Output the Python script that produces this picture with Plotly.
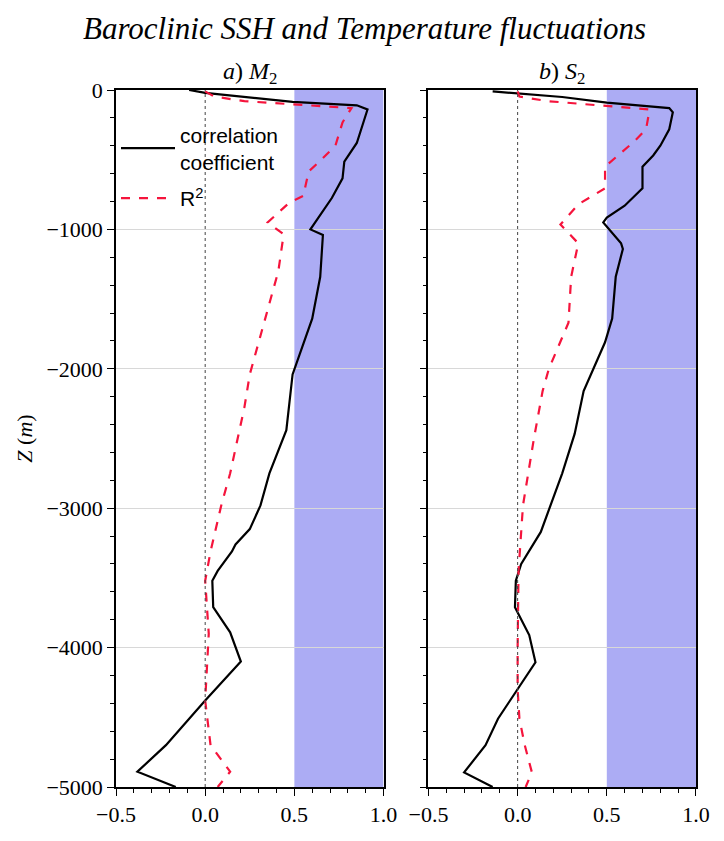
import plotly.graph_objects as go

# ---- data (depth in m, positive down) ----
m2_corr_depth = [0, 20, 85, 110, 140, 280, 380, 514, 634, 775, 866, 1000, 1040, 1340, 1640, 2040,
                 2440, 2750, 2980, 3150, 3260, 3310, 3450, 3520, 3710, 3890, 4100, 4380, 4700, 4890, 5000]
m2_corr = [-0.09, 0.0, 0.49, 0.85, 0.91, 0.875, 0.85, 0.78, 0.77, 0.71, 0.66, 0.59, 0.66, 0.645, 0.60, 0.49,
           0.455, 0.36, 0.31, 0.25, 0.17, 0.15, 0.07, 0.04, 0.045, 0.14, 0.20, 0.0, -0.22, -0.38, -0.165]

m2_r2_depth = [10, 47, 80, 130, 232, 400, 514, 585, 760, 810, 950, 1035, 1300, 2040, 2275, 2750, 2980,
               3310, 3520, 3900, 4380, 4700, 4890, 5000]
m2_r2 = [0.0, 0.05, 0.22, 0.82, 0.77, 0.73, 0.64, 0.58, 0.55, 0.47, 0.35, 0.44, 0.41, 0.25, 0.22, 0.14, 0.09,
         0.03, 0.0, 0.02, 0.0, 0.03, 0.14, 0.07]

s2_corr_depth = [10, 50, 90, 130, 160, 282, 400, 470, 550, 705, 830, 915, 950, 1100, 1140, 1340, 1640, 1810,
                 2160, 2275, 2465, 2750, 3170, 3400, 3520, 3710, 3910, 4105, 4300, 4510, 4700, 4895, 5000]
s2_corr = [-0.14, 0.25, 0.5, 0.85, 0.87, 0.85, 0.80, 0.76, 0.70, 0.70, 0.60, 0.50, 0.48, 0.58, 0.59, 0.55, 0.53,
           0.49, 0.37, 0.35, 0.32, 0.25, 0.13, 0.02, -0.01, -0.015, 0.065, 0.10, 0.0, -0.11, -0.18, -0.30, -0.14]

s2_r2_depth = [10, 47, 80, 140, 282, 373, 550, 705, 820, 965, 1100, 1340, 1670, 2000, 2160, 2510, 2980,
               3450, 4000, 4300, 4510, 4700, 4895, 5000]
s2_r2 = [0.0, 0.01, 0.17, 0.74, 0.72, 0.65, 0.49, 0.49, 0.34, 0.24, 0.34, 0.30, 0.285, 0.175, 0.14, 0.09, 0.03,
         0.005, 0.0, 0.0, 0.01, 0.04, 0.08, 0.045]

x_ticks = [-0.5, 0.0, 0.5, 1.0]
x_tick_labels = ["\u22120.5", "0.0", "0.5", "1.0"]
z_ticks = [0, -1000, -2000, -3000, -4000, -5000]
z_tick_labels = ["0", "\u22121000", "\u22122000", "\u22123000", "\u22124000", "\u22125000"]
shade_range = [0.5, 1.0]

title_text = "<i>Baroclinic SSH and Temperature fluctuations</i>"
panel_titles = ["<i>a</i>) <i>M</i><sub>2</sub>", "<i>b</i>) <i>S</i><sub>2</sub>"]
legend_names = ["correlation<br>coefficient", "R<sup>2</sup>"]

SERIF = "Liberation Serif"
BLACK = "#000000"
RED = "#f5143c"
SHADE = "#acacf4"

fig = go.Figure()

panels = [
    ("x", "y", m2_corr_depth, m2_corr, m2_r2_depth, m2_r2, True),
    ("x2", "y2", s2_corr_depth, s2_corr, s2_r2_depth, s2_r2, False),
]
for xa, ya, cd, cv, rd, rv, show in panels:
    fig.add_trace(go.Scatter(x=cv, y=[-d for d in cd], mode="lines", xaxis=xa, yaxis=ya,
                             line=dict(color=BLACK, width=2.2), name=legend_names[0], showlegend=show,
                             legendgroup="corr"))
    fig.add_trace(go.Scatter(x=rv, y=[-d for d in rd], mode="lines", xaxis=xa, yaxis=ya,
                             line=dict(color=RED, width=2.2, dash="dash"), name=legend_names[1], showlegend=show,
                             legendgroup="r2"))
    # shaded region
    fig.add_shape(type="rect", xref=xa, yref=ya + " domain", x0=shade_range[0], x1=shade_range[1],
                  y0=0, y1=1, fillcolor=SHADE, line=dict(width=0), layer="below")
    # zero line
    fig.add_shape(type="line", xref=xa, yref=ya + " domain", x0=0, x1=0, y0=0, y1=1,
                  line=dict(color="#444444", width=1, dash="dot"), layer="above")

axis_common = dict(showline=True, linecolor="black", linewidth=1.5, mirror=True,
                   ticks="outside", ticklen=7, tickcolor="black", tickwidth=1,
                   tickfont=dict(family=SERIF, size=22, color="black"), zeroline=False)

xdoms = [[0.0, 0.4613], [0.5387, 1.0]]
for i, (xk, yk) in enumerate([("xaxis", "yaxis"), ("xaxis2", "yaxis2")]):
    fig.layout[xk] = dict(domain=xdoms[i], range=[-0.5, 1.0], tickvals=x_ticks, ticktext=x_tick_labels,
                          showgrid=False, anchor="y" if i == 0 else "y2",
                          minor=dict(dtick=0.1, ticks="outside", ticklen=4, tickcolor="black", showgrid=False),
                          **axis_common)
    fig.layout[yk] = dict(domain=[0, 1], range=[-5000, 0], tickvals=z_ticks,
                          ticktext=z_tick_labels, showticklabels=(i == 0),
                          showgrid=True, gridcolor="#d8d8d8", gridwidth=1,
                          anchor="x" if i == 0 else "x2",
                          minor=dict(dtick=200, ticks="outside", ticklen=4, tickcolor="black", showgrid=False),
                          **axis_common)

fig.layout.yaxis.title = dict(text="<i>Z</i> (<i>m</i>)", font=dict(family=SERIF, size=22, color="black"),
                              standoff=8)

fig.add_annotation(text=title_text, xref="paper", yref="paper", x=0.4276, y=1.0, yshift=62,
                   yanchor="middle", showarrow=False, font=dict(family=SERIF, size=31, color="black"),
                   xanchor="center")
for i, t in enumerate(panel_titles):
    fig.add_annotation(text=t, xref="paper", yref="paper", x=(xdoms[i][0] + xdoms[i][1]) / 2, y=1.0,
                       yshift=17, yanchor="middle", showarrow=False,
                       font=dict(family=SERIF, size=24, color="black"), xanchor="center")

fig.update_layout(
    width=708, height=825,
    margin=dict(l=108, r=6, t=82, b=33),
    plot_bgcolor="white", paper_bgcolor="white",
    legend=dict(x=0.0, y=0.965, xanchor="left", yanchor="top", bgcolor="rgba(0,0,0,0)",
                font=dict(family="Liberation Sans", size=21, color="black"),
                itemwidth=54, tracegroupgap=6),
)

fig.write_html("out.html", config={"displayModeBar": False})
